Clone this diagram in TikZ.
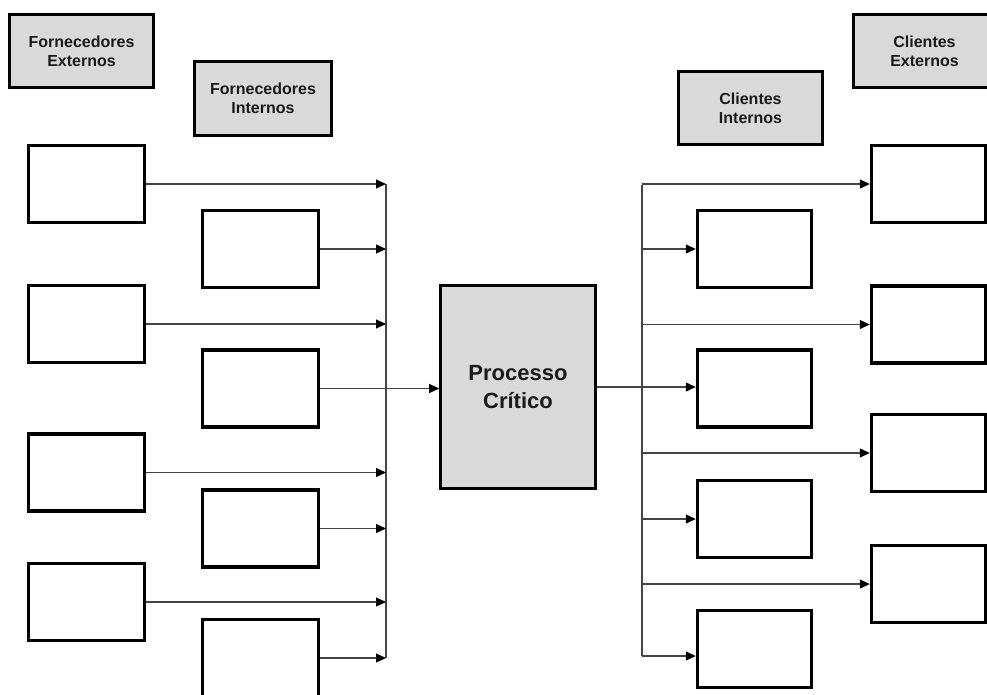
\documentclass[tikz,border=0pt]{standalone}
\usepackage{fontspec}
\setmainfont{Liberation Sans}
\usetikzlibrary{arrows.meta}
\definecolor{boxgray}{HTML}{D9D9D9}
\definecolor{linegray}{HTML}{444444}
\definecolor{textdark}{HTML}{1A1A1A}
\begin{document}
\begin{tikzpicture}[x=1pt,y=-1pt,
  blank/.style={draw=black,line width=3.4pt,fill=white,inner sep=0pt,minimum width=116pt,minimum height=77pt},
  blankr/.style={blank,minimum width=114pt},
  hdrbox/.style={draw=black,line width=3pt,fill=boxgray,inner sep=0pt,align=center,minimum height=73pt,
    text=textdark,font=\fontsize{16}{19}\selectfont\bfseries},
  procbox/.style={draw=black,line width=2.6pt,fill=boxgray,inner sep=0pt,align=center,
    minimum width=155pt,minimum height=203pt,text=textdark,font=\fontsize{22}{28}\selectfont\bfseries},
  conn/.style={draw=linegray,line width=1.1pt},
  arr/.style={conn,-{Triangle[length=10pt,width=9pt,black]}}
]
\useasboundingbox[fill=white] (0,0) rectangle (987,694);

% header boxes
\node[hdrbox,minimum width=144pt] (hfe) at (81.5,51) {Fornecedores\\Externos};
\node[hdrbox,minimum width=137pt,minimum height=74pt] (hfi) at (263,98.5) {Fornecedores\\Internos};
\node[hdrbox,minimum width=144pt] (hci) at (750.5,108) {Clientes\\Internos};
\node[hdrbox,minimum width=142pt] (hce) at (924.5,51) {Clientes\\Externos};

% left external suppliers
\node[blank] (fe1) at (86.5,184) {};
\node[blank] (fe2) at (86.5,324) {};
\node[blank] (fe3) at (86.5,472.5) {};
\node[blank] (fe4) at (86.5,602) {};
% left internal suppliers
\node[blank] (fi1) at (260.5,249) {};
\node[blank] (fi2) at (260.5,388.5) {};
\node[blank] (fi3) at (260.5,528.5) {};
\node[blank] (fi4) at (260.5,658) {};
% right external clients
\node[blankr] (ce1) at (928.5,184) {};
\node[blankr] (ce2) at (928.5,324.5) {};
\node[blankr] (ce3) at (928.5,453) {};
\node[blankr] (ce4) at (928.5,584) {};
% right internal clients
\node[blankr] (ci1) at (754.5,249) {};
\node[blankr] (ci2) at (754.5,388.5) {};
\node[blankr] (ci3) at (754.5,519) {};
\node[blankr] (ci4) at (754.5,649) {};

% central process
\node[procbox] (proc) at (518,387) {Processo\\Crítico};

% buses
\coordinate (busL) at (386,0);
\coordinate (busR) at (642,0);
\draw[conn] (busL |- fe1.east) -- (busL |- fi4.east);
\draw[conn] ([yshift=-0.6pt]busR |- ce1.west) -- ([yshift=-7pt]busR |- ci4.west);

% left connectors
\foreach \n in {fe1,fi1,fe2,fe3,fi3,fe4,fi4}
  \draw[arr] (\n.east) -- (busL |- \n.east);
\draw[arr] (fi2.east) -- (fi2.east -| proc.west);

% right connectors
\draw[arr] (proc.east) -- (proc.east -| ci2.west);
\foreach \n in {ce1,ci1,ce2,ce3,ci3,ce4}
  \draw[arr] (busR |- \n.west) -- (\n.west);
\draw[arr] ([yshift=-7pt]busR |- ci4.west) -- ([yshift=-7pt]ci4.west);
\end{tikzpicture}
\end{document}
